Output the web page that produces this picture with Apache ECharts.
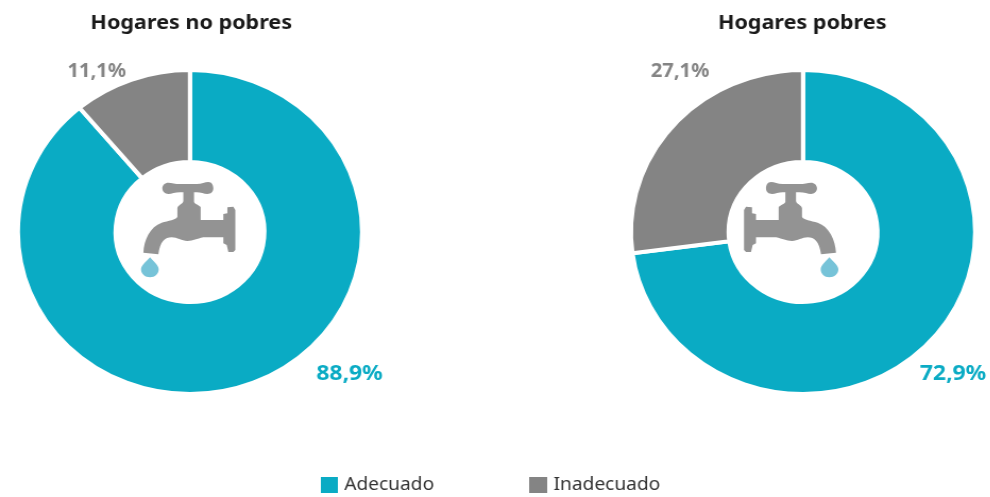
<!DOCTYPE html>
<html>
<head>
<meta charset="utf-8">
<style>
  html, body { margin: 0; padding: 0; background: #fff; overflow: hidden; }
  /* the original picture is stretched sideways, pies are wider than tall */
  #chart { width: 932px; height: 497px; transform: scaleX(1.0625); transform-origin: 0 0; }
</style>
<script src="https://cdn.jsdelivr.net/npm/echarts@6/dist/echarts.min.js"></script>
</head>
<body>
<div id="chart"></div>
<script>
const categories = ['Adecuado', 'Inadecuado'];
const noPobres = [88.9, 11.1];
const pobres = [72.9, 27.1];
const titles = ['Hogares no pobres', 'Hogares pobres'];
const colors = ['#0aabc4', '#848484'];
const labelSizes = [21.5, 19];

const FONT = '"Noto Sans", sans-serif';
const faucetPath = 'M205,68 C215,68 225,72 240,72 L290,72 C305,72 315,66 325,66 C335,66 340,75 340,85 C340,97 332,102 322,102 C312,102 302,97 290,97 L282,97 L282,125 C282,132 300,135 302,142 L302,180 L370,180 L370,162 L382,160 L382,142 L400,140 L406,150 L406,270 L400,276 L385,276 L380,255 L370,250 L370,232 L310,232 C290,236 280,243 262,243 C245,243 232,232 215,232 C195,232 180,245 175,283 L130,278 C132,240 150,200 185,188 C205,182 228,180 232,170 L232,145 C232,135 250,132 250,122 L250,97 L240,97 C225,97 215,102 205,102 C195,102 187,95 187,85 C187,75 195,68 205,68 Z';
const dropPath = 'M150,292 C160,305 176,315 176,328 C176,342 165,352 150,352 C135,352 123,342 123,328 C123,315 140,305 150,292 Z';

const chart = echarts.init(document.getElementById('chart'));

function pieSeries(values, center, labelPos) {
  return {
    type: 'pie',
    center: center,
    radius: [70, 162],
    startAngle: 90,
    clockwise: true,
    silent: true,
    itemStyle: { borderColor: '#fff', borderWidth: 4 },
    label: {
      show: true,
      // outside labels get cut when the pie is near the edge, so inside and moved by labelLayout
      position: 'inside',
      fontFamily: FONT,
      fontWeight: 'bold',
      formatter: p => p.value.toFixed(1).replace('.', ',') + '%'
    },
    labelLine: { show: false },
    labelLayout: p => ({
      x: labelPos[p.dataIndex][0],
      y: labelPos[p.dataIndex][1],
      align: 'center',
      verticalAlign: 'middle'
    }),
    data: categories.map((name, i) => ({
      name: name,
      value: values[i],
      itemStyle: { color: colors[i] },
      label: { color: colors[i], fontSize: labelSizes[i] }
    }))
  };
}

// the tap icon, graphic component has no free path so it goes through a custom series
function faucetSeries(x, sx) {
  const s = 1 / 3 / 1.0625;
  const part = (pathData, fill) => ({
    type: 'path',
    x: x,
    y: 160,
    scaleX: s * sx,
    scaleY: 1 / 3,
    shape: { pathData: pathData },
    style: { fill: fill }
  });
  return {
    type: 'custom',
    coordinateSystem: 'none',
    silent: true,
    z: 5,
    data: [0],
    renderItem: () => ({
      type: 'group',
      children: [part(faucetPath, '#939393'), part(dropPath, '#76c3d8')]
    })
  };
}

const option = {
  animation: false,
  color: colors,
  title: [
    { text: titles[0], left: 175, top: 8, textAlign: 'center', textStyle: { fontFamily: FONT, fontSize: 20.3, fontWeight: 'bold', color: '#1a1a1a' } },
    { text: titles[1], left: 750, top: 8, textAlign: 'center', textStyle: { fontFamily: FONT, fontSize: 20.3, fontWeight: 'bold', color: '#1a1a1a' } }
  ],
  legend: [
    { data: [categories[0]], left: 300, top: 475, itemWidth: 18, itemHeight: 18, itemGap: 0, icon: 'rect', selectedMode: false, padding: 0, textStyle: { fontFamily: FONT, fontSize: 18, color: '#333', padding: [8, 0, 0, 0] } },
    { data: [categories[1]], left: 496, top: 475, itemWidth: 19, itemHeight: 18, itemGap: 0, icon: 'rect', selectedMode: false, padding: 0, textStyle: { fontFamily: FONT, fontSize: 18, color: '#333' } }
  ],
  series: [
    pieSeries(noPobres, [178.8, 232], [[329, 374], [91, 72]]),
    pieSeries(pobres, [755.8, 232], [[897, 374], [640, 72]]),
    faucetSeries(100 / 1.0625, 1),
    faucetSeries((710 + 508 / 3) / 1.0625, -1)
  ]
};
chart.setOption(option);
</script>
</body>
</html>
